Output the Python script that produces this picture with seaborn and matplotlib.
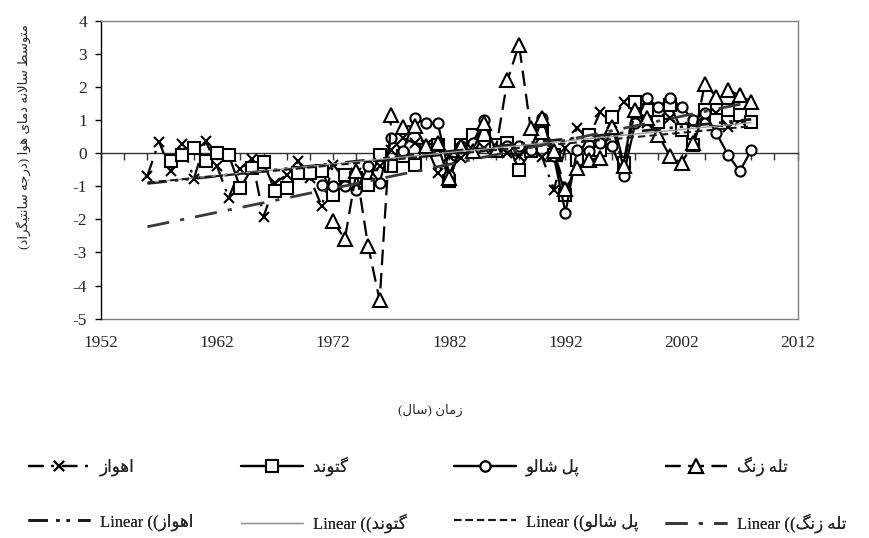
import numpy as np
import pandas as pd
import matplotlib
matplotlib.use("Agg")
import matplotlib.pyplot as plt
from matplotlib.ticker import MultipleLocator
import seaborn as sns

# ---------------- data ----------------
station_names = ["اهواز", "گتوند", "پل شالو", "تله زنگ"]

years_ahvaz = list(range(1956, 2008))
temp_ahvaz = [-0.68, 0.35, -0.55, 0.27, -0.78, 0.37, -0.40, -1.35, -0.48, -0.18,
              -1.92, -0.90, -0.65, -0.25, -0.75, -1.60, -0.35, -0.80, -0.60, -0.90,
              -0.40, 0.10, 0.45, 0.30, 0.25, -0.60, -0.10, -0.15, 0.10, 0.15,
              0.05, 0.00, -0.10, 0.10, -0.13, -1.10, 0.15, 0.75, 0.45, 1.25,
              0.90, 1.55, 1.20, 0.90, 1.00, 1.05, 0.80, 0.90, 1.10, 1.20,
              0.80, 1.00]

years_gotvand = list(range(1958, 2009))
temp_gotvand = [-0.25, -0.05, 0.15, -0.25, 0.00, -0.05, -1.06, -0.45, -0.28, -1.16,
                -1.06, -0.60, -0.60, -0.55, -1.26, -0.65, -0.75, -0.95, -0.05, -0.40,
                -0.10, -0.35, 0.10, 0.25, -0.85, 0.25, 0.55, 0.55, 0.25, 0.30,
                -0.50, 0.05, 0.60, -0.05, -1.28, -0.20, 0.55, 0.10, 1.10, -0.30,
                1.55, 1.30, 0.95, 1.45, 0.70, 0.25, 1.30, 1.00, 1.30, 1.15,
                0.95]

years_polshalu = list(range(1971, 2009))
temp_polshalu = [-0.95, -1.00, -1.00, -1.10, -0.40, -0.90, 0.45, 0.05, 1.05, 0.90,
                 0.92, -0.65, 0.20, 0.30, 1.00, 0.05, 0.20, 0.20, 0.10, 1.05,
                 -0.10, -1.80, 0.10, 0.05, 0.30, 0.22, -0.68, 0.90, 1.65, 1.40,
                 1.65, 1.40, 1.00, 1.20, 0.60, -0.05, -0.55, 0.08]

years_talezang = list(range(1972, 2009))
temp_talezang = [-2.06, -2.60, -0.55, -2.80, -4.45, 1.15, 0.80, 0.82, 0.20, 0.30,
                 -0.75, 0.20, 0.05, 0.90, 0.10, 2.20, 3.27, 0.75, 1.05, 0.05,
                 -1.08, -0.45, -0.20, -0.15, 0.80, -0.40, 1.30, 1.05, 0.55, -0.10,
                 -0.30, 0.30, 2.10, 1.70, 1.90, 1.75, 1.55]

x_ticks = [1952, 1962, 1972, 1982, 1992, 2002, 2012]
y_ticks = [-5, -4, -3, -2, -1, 0, 1, 2, 3, 4]

ylabel_text = "متوسط سالانه دمای هوا (درجه سانتیگراد)"
xlabel_text = "زمان (سال)"

# ---------------- minimal Arabic/Persian shaping for matplotlib ----------------
FORMS = {  # isolated, final, initial, medial
    "ا": ("\uFE8D", "\uFE8E"), "د": ("\uFEA9", "\uFEAA"), "ر": ("\uFEAD", "\uFEAE"),
    "ز": ("\uFEAF", "\uFEB0"), "و": ("\uFEED", "\uFEEE"),
    "ت": ("\uFE95", "\uFE96", "\uFE97", "\uFE98"), "ج": ("\uFE9D", "\uFE9E", "\uFE9F", "\uFEA0"),
    "س": ("\uFEB1", "\uFEB2", "\uFEB3", "\uFEB4"), "ش": ("\uFEB5", "\uFEB6", "\uFEB7", "\uFEB8"),
    "ط": ("\uFEC1", "\uFEC2", "\uFEC3", "\uFEC4"), "ل": ("\uFEDD", "\uFEDE", "\uFEDF", "\uFEE0"),
    "م": ("\uFEE1", "\uFEE2", "\uFEE3", "\uFEE4"), "ن": ("\uFEE5", "\uFEE6", "\uFEE7", "\uFEE8"),
    "ه": ("\uFEE9", "\uFEEA", "\uFEEB", "\uFEEC"), "ی": ("\uFBFC", "\uFBFD", "\uFBFE", "\uFBFF"),
    "گ": ("\uFB92", "\uFB93", "\uFB94", "\uFB95"), "پ": ("\uFB56", "\uFB57", "\uFB58", "\uFB59"),
}
MIRROR = {"(": ")", ")": "("}


def shape(text):
    out = []
    i = 0
    n = len(text)
    while i < n:
        c = text[i]
        if c not in FORMS:
            out.append(c)
            i += 1
            continue
        prev = text[i - 1] if i > 0 else ""
        joins_prev = prev in FORMS and len(FORMS[prev]) == 4
        if c == "ل" and i + 1 < n and text[i + 1] == "ا":
            out.append("\uFEFC" if joins_prev else "\uFEFB")
            i += 2
            continue
        nxt = text[i + 1] if i + 1 < n else ""
        f = FORMS[c]
        joins_next = len(f) == 4 and nxt in FORMS
        if joins_prev and joins_next:
            out.append(f[3])
        elif joins_prev:
            out.append(f[1])
        elif joins_next:
            out.append(f[2])
        else:
            out.append(f[0])
        i += 1
    return "".join(out)


def rtl(text):
    return "".join(MIRROR.get(c, c) for c in reversed(shape(text)))


# ---------------- figure ----------------
sns.set_theme(style="white")
FAM = ["Liberation Serif", "DejaVu Sans"]
plt.rcParams["font.family"] = FAM
plt.rcParams["axes.unicode_minus"] = False

fig = plt.figure(figsize=(8.7, 5.38), dpi=100)
ax = fig.add_axes([101 / 870, 1 - 318.6 / 538, (797.7 - 101) / 870, (318.6 - 20.7) / 538])

styles = [
    dict(marker="x", linestyle=(0, (7, 3.5, 1.2, 3.5)), markersize=6.5, markeredgewidth=1.5),
    dict(marker="s", linestyle="-", markersize=8.2, markeredgewidth=1.5),
    dict(marker="o", linestyle="-", markersize=7.3, markeredgewidth=1.5),
    dict(marker="^", linestyle=(0, (7, 3.5)), markersize=9.5, markeredgewidth=1.5),
]
trend_styles = [
    dict(color="#1a1a1a", linestyle=(0, (7, 3, 1.2, 2.5, 1.2, 3)), linewidth=2.0),
    dict(color="#9a9a9a", linestyle="-", linewidth=1.0),
    dict(color="#1a1a1a", linestyle=(0, (3.5, 2)), linewidth=1.5),
    dict(color="#3a3a3a", linestyle=(0, (8, 4, 1.5, 4)), linewidth=2.0),
]

data_sets = [
    (years_ahvaz, temp_ahvaz),
    (years_gotvand, temp_gotvand),
    (years_polshalu, temp_polshalu),
    (years_talezang, temp_talezang),
]

all_years = years_ahvaz + years_gotvand + years_polshalu + years_talezang
trend_x = np.array([min(all_years), max(all_years)], dtype=float)

series_handles = []
for (yrs, vals), st in zip(data_sets, styles):
    df = pd.DataFrame({"year": yrs, "temp": vals})
    sns.lineplot(data=df, x="year", y="temp", ax=ax, color="black", linewidth=1.6,
                 markerfacecolor="white", markeredgecolor="black", estimator=None,
                 sort=False, legend=False, zorder=3, **st)
    series_handles.append(ax.get_lines()[-1])

trend_handles = []
for (yrs, vals), st in zip(data_sets, trend_styles):
    slope, intercept = np.polyfit(yrs, vals, 1)
    tdf = pd.DataFrame({"year": trend_x, "temp": slope * trend_x + intercept})
    sns.lineplot(data=tdf, x="year", y="temp", ax=ax, estimator=None, sort=False,
                 legend=False, zorder=4, **st)
    trend_handles.append(ax.get_lines()[-1])

ax.set_xlim(x_ticks[0], x_ticks[-1])
ax.set_ylim(y_ticks[0], y_ticks[-1])
ax.set_yticks(y_ticks)
ax.set_xlabel("")
ax.set_ylabel("")

# zero line acts as the x axis with small ticks
ax.spines["bottom"].set_position(("data", 0))
ax.spines["bottom"].set_color("#333333")
ax.spines["bottom"].set_linewidth(1.0)
ax.xaxis.set_major_locator(MultipleLocator(2))
ax.tick_params(axis="x", which="both", direction="out", length=5, width=1,
               color="#333333", labelbottom=False, bottom=True)
ax.tick_params(axis="y", direction="out", length=4, width=1, color="black",
               left=True, labelsize=12.5, pad=6)
for s in ["top", "right"]:
    ax.spines[s].set_color("#808080")
    ax.spines[s].set_linewidth(1.0)
ax.spines["left"].set_color("black")
ax.spines["left"].set_linewidth(1.0)

sec = ax.secondary_xaxis(0.0)
sec.set_xticks(x_ticks)
sec.tick_params(axis="x", length=0, labelsize=12.5, pad=12)
sec.spines["bottom"].set_color("#808080")
sec.spines["bottom"].set_linewidth(1.0)

fig.text(24 / 870, 1 - 137 / 538, rtl(ylabel_text), rotation=90, ha="center", va="center",
         fontsize=9.5, family=FAM)
fig.text(430 / 870, 1 - 410 / 538, rtl(xlabel_text), ha="center", va="center",
         fontsize=9.5, family=FAM)

# legend: one column block per station (series on top row, linear trend below)
prop = {"family": FAM, "size": 12}
labels1 = [rtl(n) for n in station_names]
labels2 = ["Linear (" + rtl(n + ")") for n in station_names]
col_x = [28, 241, 454, 665]
for cx, h1, l1, h2, l2 in zip(col_x, series_handles, labels1, trend_handles, labels2):
    leg = fig.legend([h1, h2], [l1, l2], loc="center left",
                     bbox_to_anchor=(cx / 870, 1 - 494.5 / 538), ncol=1, frameon=False,
                     handlelength=3.7, handletextpad=0.6, labelspacing=2.25,
                     borderaxespad=0, borderpad=0, prop=prop)
    fig.add_artist(leg)

fig.savefig("out.png", dpi=100)
